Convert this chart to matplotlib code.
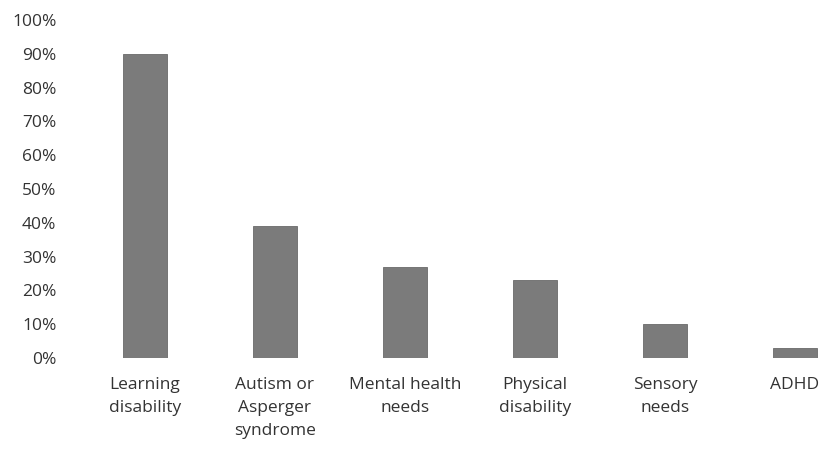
import matplotlib
matplotlib.use("Agg")
from matplotlib import pyplot as plt
from matplotlib.ticker import FuncFormatter

categorias = [
    "Learning\ndisability",
    "Autism or\nAsperger\nsyndrome",
    "Mental health\nneeds",
    "Physical\ndisability",
    "Sensory\nneeds",
    "ADHD",
]
percentuais = [90, 39, 27, 23, 10, 3]
ticks_y = [0, 10, 20, 30, 40, 50, 60, 70, 80, 90, 100]

plt.rcParams['font.family'] = ['Open Sans', 'DejaVu Sans']

fig = plt.figure(figsize=(8.3, 4.54), dpi=100)
ax = fig.add_axes([80 / 830, 96 / 454, 750 / 830, 338 / 454])

posicoes = range(len(categorias))
ax.bar(posicoes, percentuais, width=0.34, color="#7b7b7b", edgecolor="#6a6a6a", linewidth=0.6)

ax.set_xlim(-0.5, 5.27)
ax.set_ylim(0, 100)
ax.set_yticks(ticks_y)
ax.yaxis.set_major_formatter(FuncFormatter(lambda v, _: f"{int(v)}%"))
ax.set_xticks(list(posicoes))
ax.set_xticklabels(categorias, linespacing=1.55)

ax.tick_params(axis="both", length=0, labelsize=12.5, colors="#333333")
ax.tick_params(axis="x", pad=14)
ax.tick_params(axis="y", pad=17)
for lado in ax.spines.values():
    lado.set_visible(False)

fig.savefig("out.png", dpi=100)
